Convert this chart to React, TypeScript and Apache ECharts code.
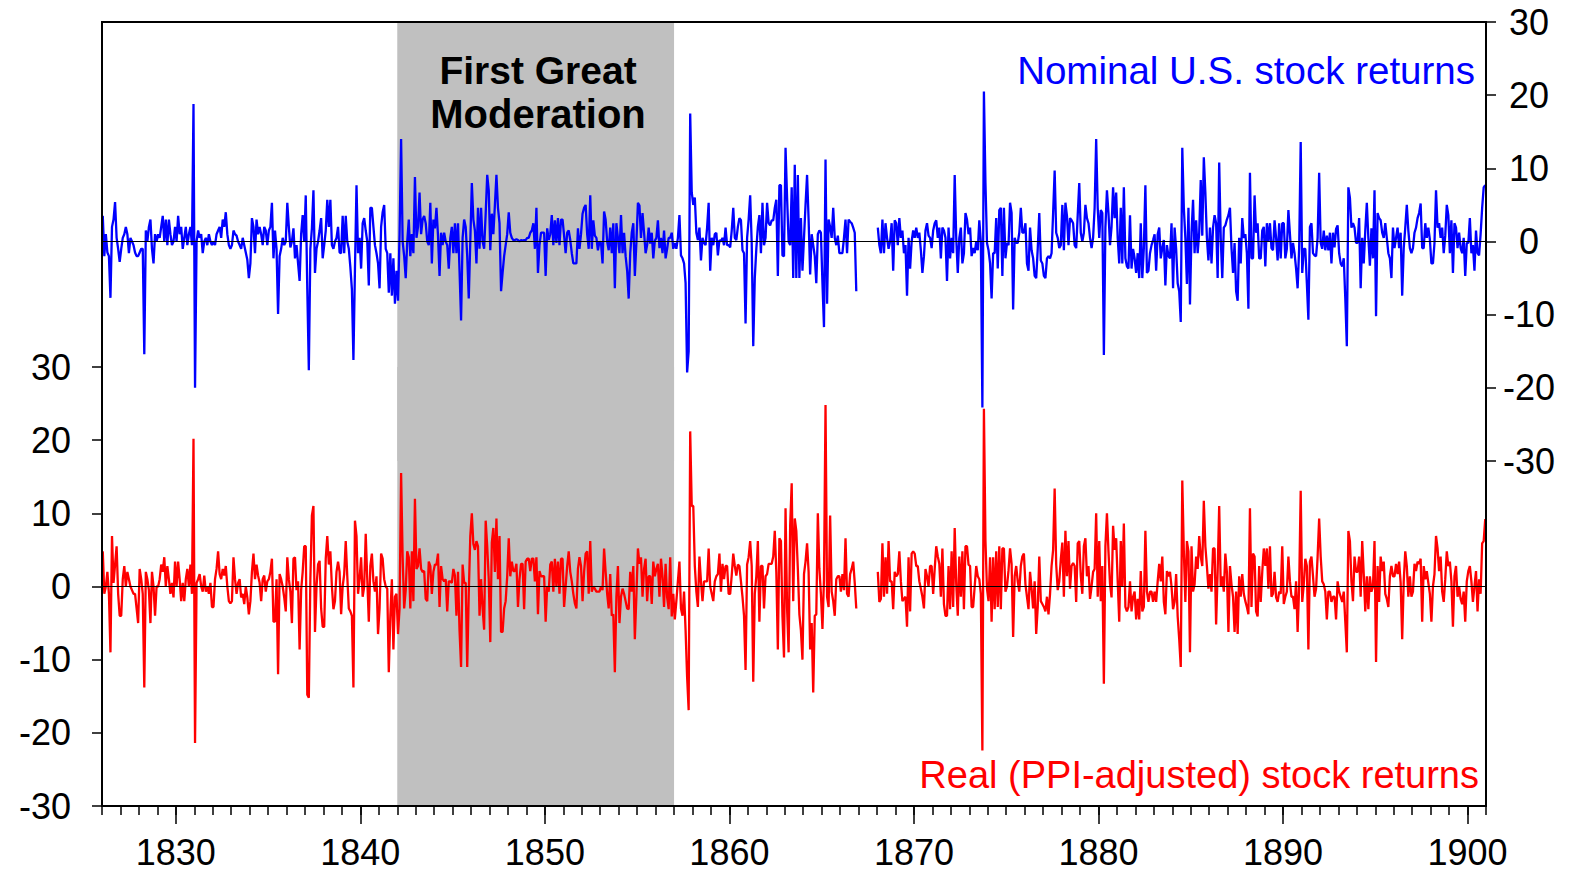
import React, { useEffect, useRef } from "react";
import * as echarts from "echarts";

// Monthly returns (%), one row per year, starting January 1826.
const nominalRows: (number | null)[][] = [
  [3.5,-2,1,-1.5,-2,-7.7,2,3,5.4,0.5,-1,-2.8],
  [-1,0.5,1,2,1,-1.6,0.5,0,-0.5,-1.5,-2,-2],
  [-1.5,-1,-1,-15.4,1.5,0,2,3,-1,-3,1,0],
  [1,0.5,2,3.5,0,3,-0.5,3,1,-0.5,0,2],
  [0,3.5,1,2,-1,0.5,2,-0.5,1,2,-0.5,18.8],
  [-20,0,1.5,0.5,1,-1.6,0,0.5,-0.5,1,0,-0.5],
  [0,-0.5,1,1.5,2,0.5,3,2,4,1,-0.5,-1],
  [-0.5,1.5,1,0.8,0,-0.5,-1,0.5,-0.5,-1.5,-2.5,-5],
  [-3,3.2,2,-1.6,3,1,2,1,-0.5,2,1.5,-0.5],
  [1.5,2,5.3,-2.3,1.5,-1,-9.9,-2,-1,0.5,-0.5,0],
  [5.3,2,-0.8,0,1.8,-2.3,-0.5,-3,-5.4,1,3.6,0],
  [6.3,-6.5,-17.6,-1,1.8,7,-4.3,-1,0,1.5,3.2,-2.3],
  [-0.5,1.5,5.7,2,5.7,-0.5,-1,0,0.5,2,-1.5],
  [-1.6,3.5,-1.6,3.5,0,-1,-3.5,-6.5,-16.2,-3.7,7.7,-1.6],
  [0.5,-3.7,2.5,3.2,1.5,0,-6,4.6,4.6,2,-0.5,-1.6],
  [-3,-6.4,2,4,5,-1,-1.6,-7,-1.6,-7.4,-2.3,-8.5],
  [-4,-8.1,1,14,0,-2,-5,0,3,-2,1,-1.6],
  [8.8,0.5,2,6.7,1,3,3.5,2.5,0,-0.5,5.3,-3],
  [3,1.8,4.6,0.8,-4.7,1.2,-0.5,1.2,0,-0.5,-3.7,0.5],
  [2,-1.6,2.5,-1.6,2.5,-4,-10.8,0.5,3,2,-2,-7.8],
  [0,8,3,1.5,-3,4.6,-1,4.6,0,-1,3.8,9.1],
  [7,-1.2,3.8,1,5,9.1,4.6,2.5,-6.8,-4.3,-2,-0.5],
  [1,4,1.2,0.5,0.2,0.2,0.3,0.2,0,0.2,0.1,0.2],
  [0.2,0.5,0.5,1.2,1.5,2.5,-1,4.6,-4.3,-0.5,1.2,1.2],
  [1.2,-4.7,1.8,0.2,1,3.6,-0.5,2.9,-0.2,3.2,-0.5,3],
  [3,0.8,-1.6,1.2,1.5,0.2,-1.6,-3,-3,-3,1.8,-1],
  [1,3.8,4.6,5,1,-1,6.3,-1,2.9,0.8,0.5,-1.2],
  [0,-0.2,-3,4.1,3,0,-1.2,1.9,-1.6,2.5,-6.4,2.5],
  [0.5,-1.6,3.6,-1.6,1.2,-2,-4,-7.8,-1.6,1.2,2.5,-4.7],
  [-0.2,5.3,4.9,0.5,3.9,1.2,-1.6,-0.5,1.9,-0.3,1.2,-2.3],
  [0.1,0.5,2.9,-0.9,0.5,-1.6,1.5,-2.3,-1,0.5,0.5,1.2],
  [-1,-0.2,-1,0.5,3.6,-1.9,-2.3,-3,-5.7,-17.9,-15,17.5],
  [6.7,5,6,1.2,0.2,1.9,-2.6,0.5,-0.2,-0.5,1.9,5.3],
  [-4,0.5,-0.5,1,1.2,-1.9,0.2,0,0.5,-0.5,1.9,-0.5],
  [-0.5,-0.8,1.5,4.6,0.5,0.2,2,3.2,2.9,-1.2,-1.6,-11.2],
  [0.5,3,6.3,-0.2,-14.3,-5,-1,2,3.6,-1.6,5.3,-0.5],
  [0.5,5.3,2.5,2.2,2.9,2.9,4.6,5.7,-4.7,7.7,7.7,-1.9],
  [-2,12.8,6,0,-0.5,7.4,-5,10.5,-5,9.1,-5,3.2],
  [-4,0.5,5,9.1,3,-4.5,1,-0.5,-2,-5.7,1],
  [1.5,1.2,-5.7,-11.7,11.2,-8.5,3,2,0.5,4.6,0.5,-0.5],
  [0.8,-1.6,-1.6,-1.6,0.5,3,-1.6,3,2.7,2.5,1.9,1.2],
  [-6.8,null,null,null,null,null,null,null,null,null,null,null],
  [null,null,1.9,-0.5,-1.6,3,-1.6,2.5,0.5,-1,0,2.5],
  [-4,2.9,2.5,-0.5,3.2,0.5,1.5,-1.6,-0.5,-7.4,0.5,-3.7],
  [0,1.5,0.5,1.9,0.5,1.2,-1.2,-4.3,-2,1.5,2.5,0.8],
  [0.5,-0.9,1.5,2.5,2.9,0.5,1.9,-2.3,1.9,1.5,0.5,-5.4],
  [1.9,-2.3,0.5,-1.6,9.1,0.5,-4.3,0.5,1.9,-3,-1.6,3.9],
  [3,1,1.9,-2,-0.9,-1.6,0,-1.2,2.9,0,-22.7,20.5],
  [8,-0.2,-1.2,-3,-7.8,-1.6,-1.6,3.2,-3.7,4.3,4.6,-4.7],
  [4.6,-2.3,-0.2,-0.5,5.3,3.9,-9.3,0.5,-0.2,-0.2,1.2,4.6],
  [1.2,1.2,2.5,-3,-4,1.9,-1.2,-2.3,-4.7,-5,-1,3.9],
  [-2.6,-3,-4.7,-5,-2.3,-2,-2.3,-1.6,3.9,9.7,1.2,0.5],
  [-0.9,-0.5,5,-1.2,5.3,3.5,-0.5,3.2,2.9,2.5,-0.5,-0.9],
  [3.6,8,1.2,0,1.2,5,3.2,2.5,0.5,-0.9,0.5,4.6],
  [14,4.6,0.5,4.3,3.9,-15.5,1.9,7,3.9,-0.5,2,7.4],
  [3.2,6.7,0.5,-3,4.6,-3,7.4,-2.3,-3.4,-3.7,3.6,-3.7],
  [-1,-2.3,-4.3,-1.6,-5,2.5,-5,-0.9,7.7,-4.3,-4,-1.6],
  [-0.5,0.2,1,-4,1,1.9,-2.3,-0.9,0.2,-6,-0.5,-2],
  [-2.3,2.5,-6.4,1.9,-1,-5.7,-6.8,-11,12.8,4.6,0.5,-5.8],
  [4.6,-8.6,1.2,5.7,-1.6,2.9,-1.6,1.2,8.4,0.8,11.5,6.7],
  [0.5,-2.6,1.9,-3,1.9,3.6,2.5,-5,10.8,0.5,-5,1.9,2.2,3.0],
  [3.6,4.6,-0.9,-4.3,-0.2,-6.8,-8.1,0.5,-3,3.2,0.5,1.0],
  [-1.6,-9.2,9.4,-2.3,-2.3,6.3,1.2,2.5,-2.3,-2.3,1.5,2],
  [-3.4,2.5,0,2.5,-0.9,-1.2,2.9,0.5,-2.6,2.5,-2.3,2.5],
  [2.5,-2.3,-1,4.3,1,-2.3,-0.2,-1.6,-3.7,-6.4,-0.9,13.6],
  [-4.3,-1,-1,-5.7,-10.7,2,2.5,-1.6,-1.9,-2,0.5,9.4],
  [-0.2,-1,1.5,-1.2,0.8,-1.2,1.2,-3,1.2,-0.8,1.7,2.2],
  [-1.6,-3,-3.4,-2.3,-7.8,-14.3,7.4,6,1.9,2.5,1.9,-0.2],
  [-0.2,3.2,-6.4,0.5,-3,1.5,5.3,0.5,-3.3,1.8,-2.3,7],
  [-10.2,3.9,3.2,2.9,1.2,0.5,2.5,0.5,-1.6,-2.3,-5,1.9],
  [-0.9,0.5,1.9,-0.9,1.2,-7.4,-0.9,1.9,5,1.5,-0.9,-1.6],
  [-0.9,1.2,1.9,3.2,3.9,5.2,-0.9,-0.9,2.5,0.5,1.9,0.3],
  [-3,-3,-0.2,7,1.9,2.5,0.5,1.9,-1.6,0.8,5,3.6],
  [-1.6,2.9,-4.3,2.5,1.9,-0.9,1.2,-0.9,-1.6,0.5,-4.7,-0.2],
  [-0.2,3.2,-1.6,-0.5,-4,1.5,-1.6,-1.9,1,4.6,7.4,7.7],
];

const realRows: (number | null)[][] = [
  [4.8,-1,0,2,-1,-9,6.9,0.5,3,5.5,-1,-4],
  [-4,1,2.8,0,2,1,0,-0.5,-1,-1,-3,-5],
  [2.4,1,-1,-13.8,2,1,-0.5,-5,2,0,-4,0],
  [0,1,3,2,4,0,2.8,1,-1,0.5,-1.5,3.4],
  [0,3.4,1,-2,0.5,-2,1,2.4,0,3,-1,20.2],
  [-21.4,0.5,1,1.7,0,-0.7,1.5,-0.7,0,-1,0.5,-2.8],
  [-2.8,1,2.4,4.8,1.7,1,2.4,1.5,2.8,0,-2,-2.3],
  [-2,4,1,-1,0.5,1,-1.5,-1,-2.4,0,-1.5,-3.8],
  [-2,2,4.5,1,3,1.5,0.5,-2,1,1.5,-0.7,0.7],
  [1,2,3.8,-4.8,-4.8,1,-12,1.7,1,0,-1.5,-3.4],
  [4,1,-0.7,-5,3.8,4,-0.5,0.7,-8.6,-0.5,2,5.5],
  [5.5,-14.8,-15.2,1,9.7,11,-6.2,0,3,3.5,-3,-5.5],
  [-5.5,3.8,6.9,3,4.8,0,-3.1,-2,2,3.4,2],
  [-3.8,0,1.7,6.2,1.4,-3,-3.4,-4,-13.8,9,6.9,-1],
  [1,4,-1.4,0,7.2,1,-4.8,2.8,4.5,0.7,-0.7,1.4],
  [-6.5,-3,4.5,3.8,1,0,-0.3,-11.7,-4,1,-8.6,-1.4],
  [-1,-6.5,-3,15.5,4,-3,-0.5,4.8,4,-3,4.8,-2],
  [12,2.4,2.8,5.2,2.4,2,2.1,-1.7,-2,3.4,2.8,-1],
  [2,3,3,4.5,-2.8,2.8,1,0.7,1,-3.4,0.7,0.7],
  [0.5,2.4,1.5,-4,2,-6,-11,3,0.5,0.5,-11,-1],
  [6.9,10,5.8,5,6.2,5.5,-4,1,-3,-5.9,9,5.5],
  [1,-7.6,6,8,2,9.3,1,6.9,-6.2,-6.2,-3,-2],
  [1.4,6.6,1.4,3.4,2.1,2.1,3.1,-2.8,1,3.1,3.1,-3.1],
  [3.4,3.8,3.8,2.1,3.8,3.8,0.7,4,-3.8,2.1,1.4,1.4],
  [1.4,-4.8,0,-0.7,3,3.4,-0.7,3.8,0,3.4,-1,3.8],
  [3.8,-2.8,0,2.8,4.8,2,0.7,-1,-2.3,-3,2.4,4],
  [2.8,-2,2,4.5,4.8,-1,6.2,-0.7,0,-0.3,-0.7,-0.7],
  [-0.7,0,-0.5,5.2,2,-1,-3,1.7,-4,-3.8,-11.7,-1.4],
  [2.8,-5,-1.4,-0.3,-1,-2,-3,-3.1,2,-0.7,2.8,-7.2],
  [-1.4,5.2,3.1,4,-1.4,2.4,3.8,-2,1.4,1.4,-2.4,3.4],
  [1.4,2.4,3.1,-1.4,3.8,1.4,-2.8,3.1,-1.5,-3.1,4,-4.1],
  [-1,-4.5,-2,0.7,3.4,-3,-4,-0.7,-6,-12.4,-16.9,21.2],
  [11,11,2.8,-0.7,-2.8,4.1,0.7,-2,0.7,0.7,0.7,5.2],
  [0,-1,-2,0.7,1.4,1.7,4.5,-0.7,3.1,1,2.8,2.8],
  [-1,-1,1.5,4.5,2.8,1.5,3,2.8,0.7,-1.4,-4,-11.4],
  [3,4,6.2,2.8,-13,-1,1.4,6.2,-4.8,2.8,2.8,-3],
  [1.4,1.7,3.1,3.1,3.1,4.1,7.6,2,-8.6,6.6,6.2,-4.1],
  [-9.7,10.7,-3,-9,8.3,14.1,-2,9.3,7.6,2.4,-3.8,-6],
  [-10,1.7,3.4,5.9,2,-8.6,-5,-14.5,-4,-3.8,10],
  [2.4,-1,-5.8,1,24.8,-1.4,-2.8,9.7,-0.7,-2,-4,1],
  [1.4,1.4,-0.7,1.7,-0.5,6.6,-1,-1.4,1.7,2.4,3.4,0.5],
  [-3,null,null,null,null,null,null,null,null,null,null,null],
  [null,null,2,-2.1,-1.7,5.9,-1.4,4,-1,6.2,0.7,0.7],
  [-3.1,2,1.4,1.7,4.8,0.7,-2,-1.7,-1.4,-5.5,4,-3.4],
  [4.5,4.8,4.5,2.8,2.8,0.7,-0.3,-1.4,-3,2.4,1.4,0],
  [2.8,2.8,-1,2.4,5.5,4.1,3.1,-1.4,5.2,-2.4,-4,-4],
  [2.8,-3.1,4.8,-2.8,8,0.3,-4,4.1,-1.4,4.8,-3.1,5.5],
  [5.5,3,2.8,-2.8,-2.8,0,2.8,1.4,1,-1,-22.4,24.3],
  [6.2,-0.3,-2,4,-4.8,4,-3.1,4.8,-2.8,5.5,-3.1,5.2],
  [5.2,-0.7,0,2.2,5.2,3.1,-6.9,1.4,2.8,0.7,-0.7,2.8],
  [4.1,4.5,0.3,-1.4,-3.1,2,-0.3,-3,0.7,-6.5,-2.8,4.1],
  [-2,-2.4,-2.8,-3.4,-1.4,-3.8,-1,2.8,5,13.4,3,-0.5],
  [0.7,3.7,6,-1.4,7.6,1.4,6.2,-0.3,2.8,3.2,2.8,-2.1],
  [5.9,6.2,1.4,-1,5.5,6.6,1.4,2.8,-1.7,0,2,2.4],
  [10,-1.4,6.2,-2,2.8,-13.3,5.5,10,4.8,0.4,-1.5,8.3],
  [5,6.6,0.7,-4.8,6.2,0,8.6,-2.8,-3.4,-2.8,0.7,-3.4],
  [-1.4,-0.7,-4.5,-1.7,-4.5,2.1,-3.4,-2.8,7.6,-0.7,-2.1,-0.7],
  [-0.7,-2.1,-0.7,-2.1,0.7,3.1,0.7,4.1,-2.1,-3.8,2.1,1.4],
  [2,0,-3.1,-2.1,1.7,-4.1,-7.2,-11,14.5,4.8,-2.1,6.2],
  [4.8,-9,5.5,-0.7,0.3,4.1,2.4,6.9,4.1,2.8,11.7,5.5],
  [2.8,-0.3,1.7,-0.7,5.2,5.2,-5.2,2.1,11,0,1.4,-0.7,4.5,2],
  [-6.2,2.8,0.3,-1.4,-6.2,-0.7,-6.5,1.4,-1.4,1.7,-1,-2],
  [-2.8,-3.8,10.7,-2.8,4.5,4.1,-3.4,-4.1,2.8,-2.1,2,5.2],
  [2.8,5.2,-0.3,5.5,-1.4,-1,2,-1.5,-2.1,-0.7,-1,5.5],
  [-2.4,-1.4,-0.7,4.1,0.7,-1.4,-1.4,-3.1,0.7,-6.2,0,13.1],
  [-2.1,0.3,3.8,2.8,-8.6,3.4,4.1,1.4,-1.4,-0.3,4.1,9.3],
  [4.1,0.7,0.3,-0.7,-4.5,-0.7,-0.7,-2.1,-1.4,-1.4,-4.5,0.7],
  [-0.7,-1.4,-2.1,-0.7,-4.8,-9,7.6,6.2,0.7,-2,4.1,2],
  [2,4.1,-1.4,6.2,1.7,-3.4,1.4,-3.1,1.4,-0.7,0,6.2],
  [-10.3,2.8,-2.1,4.1,2.1,3.4,-1,-1.7,-2.8,1.4,2.8,1.4],
  [1.4,3.1,1.7,3.4,0.5,-7.2,0.7,4.8,2.8,-1.4,1.4,-1.4],
  [-0.7,3.1,2.1,3.4,3.1,3.8,-4.8,2.8,1,2.1,0.5,-1],
  [-4.8,0,1.7,6.9,5.2,2.1,4.1,-0.7,-2.1,1,4.8,2.8],
  [3.4,0.7,-5.5,1.4,2.8,-1.4,0,-1.7,-2.4,-0.7,-4.8,0.7],
  [2.1,2.8,0.7,-2.1,0,2.1,-3.4,1,-1,5.9,6.2,9.2],
];

const START_YEAR = 1826;
const END_YEAR = 1901;
const yearTicks = [
  1826,1827,1828,1829,1830,1831,1832,1833,1834,1835,1836,1837,1838,1839,1840,
  1841,1842,1843,1844,1845,1846,1847,1848,1849,1850,1851,1852,1853,1854,1855,
  1856,1857,1858,1859,1860,1861,1862,1863,1864,1865,1866,1867,1868,1869,1870,
  1871,1872,1873,1874,1875,1876,1877,1878,1879,1880,1881,1882,1883,1884,1885,
  1886,1887,1888,1889,1890,1891,1892,1893,1894,1895,1896,1897,1898,1899,1900,1901,
];
const decadeTicks = [1830, 1840, 1850, 1860, 1870, 1880, 1890, 1900];
const shadedPeriod = [1842, 1857];
const nominalLabel = "Nominal U.S. stock returns";
const realLabel = "Real (PPI-adjusted) stock returns";
const shadeLabel = ["First Great", "Moderation"];

const FONT = "'Liberation Sans', Arial, sans-serif";
const W = 1578;
const H = 871;
const PLOT_L = 102;
const PLOT_R = 1486;
const TOP_A = 22;
const PANEL_H = 439;
const TOP_B = 367;

function toPoints(rows: (number | null)[][]) {
  const flat = rows.flat();
  return flat.map((v, i) => [START_YEAR + (i + 0.5) / 12, v == null ? "-" : v]);
}

export default function App() {
  const ref = useRef<HTMLDivElement>(null);

  useEffect(() => {
    if (!ref.current) return;
    const chart = echarts.init(ref.current, undefined, { renderer: "svg" });
    const axisText = { color: "#000", fontSize: 36, fontFamily: FONT };
    const option: any = {
      animation: false,
      backgroundColor: "#fff",
      grid: [
        { left: PLOT_L, right: W - PLOT_R, top: TOP_A, height: PANEL_H },
        { left: PLOT_L, right: W - PLOT_R, top: TOP_B, height: PANEL_H },
      ],
      xAxis: [
        { gridIndex: 0, type: "value", min: START_YEAR, max: END_YEAR, show: false },
        {
          gridIndex: 1, type: "value", min: START_YEAR, max: END_YEAR,
          axisLine: { show: true, onZero: false, lineStyle: { color: "#000", width: 2 } },
          axisTick: { show: true, customValues: yearTicks, length: 9, lineStyle: { color: "#000", width: 1.5 } },
          axisLabel: { show: false },
          splitLine: { show: false },
        },
        {
          gridIndex: 1, type: "value", min: START_YEAR, max: END_YEAR, position: "bottom",
          axisLine: { show: false, onZero: false },
          axisTick: { show: true, customValues: decadeTicks, length: 18, lineStyle: { color: "#000", width: 1.5 } },
          axisLabel: { show: true, customValues: decadeTicks, margin: 28, formatter: (v: number) => String(v), ...axisText },
          splitLine: { show: false },
        },
      ],
      yAxis: [
        {
          gridIndex: 0, type: "value", position: "right", min: -30, max: 30, interval: 10,
          axisLine: { show: false },
          axisTick: { show: true, length: 10, lineStyle: { color: "#000", width: 1.5 } },
          axisLabel: { margin: 43, align: "center", ...axisText },
          splitLine: { show: false },
        },
        {
          gridIndex: 1, type: "value", position: "left", min: -30, max: 30, interval: 10,
          axisLine: { show: false },
          axisTick: { show: true, length: 10, lineStyle: { color: "#000", width: 1.5 } },
          axisLabel: { margin: 31, ...axisText },
          splitLine: { show: false },
        },
      ],
      series: [
        {
          name: nominalLabel, type: "line", xAxisIndex: 0, yAxisIndex: 0,
          data: toPoints(nominalRows), showSymbol: false, connectNulls: false,
          lineStyle: { color: "#0000FF", width: 2.3 }, itemStyle: { color: "#0000FF" },
          z: 3,
          markArea: { silent: true, itemStyle: { color: "#C0C0C0" }, data: [[{ xAxis: shadedPeriod[0] }, { xAxis: shadedPeriod[1] }]] },
          markLine: { silent: true, symbol: ["none", "none"], label: { show: false }, lineStyle: { color: "#000", width: 1, type: "solid" }, data: [{ yAxis: 0 }] },
        },
        {
          name: realLabel, type: "line", xAxisIndex: 1, yAxisIndex: 1,
          data: toPoints(realRows), showSymbol: false, connectNulls: false,
          lineStyle: { color: "#FF0000", width: 2.3 }, itemStyle: { color: "#FF0000" },
          z: 3,
          markArea: { silent: true, itemStyle: { color: "#C0C0C0" }, data: [[{ xAxis: shadedPeriod[0] }, { xAxis: shadedPeriod[1] }]] },
          markLine: { silent: true, symbol: ["none", "none"], label: { show: false }, lineStyle: { color: "#000", width: 1, type: "solid" }, data: [{ yAxis: 0 }] },
        },
      ],
      graphic: [
        {
          type: "rect", z: 100, silent: true,
          shape: { x: PLOT_L, y: TOP_A, width: PLOT_R - PLOT_L, height: TOP_B + PANEL_H - TOP_A },
          style: { fill: "none", stroke: "#000", lineWidth: 2 },
        },
        {
          type: "text", z: 101, x: 538, y: 70, silent: true,
          style: { text: shadeLabel[0], fill: "#000", fontSize: 39, fontWeight: "bold", fontFamily: FONT, align: "center", verticalAlign: "middle" },
        },
        {
          type: "text", z: 101, x: 538, y: 114, silent: true,
          style: { text: shadeLabel[1], fill: "#000", fontSize: 40, fontWeight: "bold", fontFamily: FONT, align: "center", verticalAlign: "middle" },
        },
        {
          type: "text", z: 101, x: 1475, y: 70, silent: true,
          style: { text: nominalLabel, fill: "#0000FF", fontSize: 38.5, fontFamily: FONT, align: "right", verticalAlign: "middle" },
        },
        {
          type: "text", z: 101, x: 1479, y: 775, silent: true,
          style: { text: realLabel, fill: "#FF0000", fontSize: 38, fontFamily: FONT, align: "right", verticalAlign: "middle" },
        },
      ],
    };
    chart.setOption(option);
    return () => chart.dispose();
  }, []);

  return (
    <div
      ref={ref}
      style={{ position: "fixed", left: 0, top: 0, width: W, height: H, background: "#fff" }}
    />
  );
}
